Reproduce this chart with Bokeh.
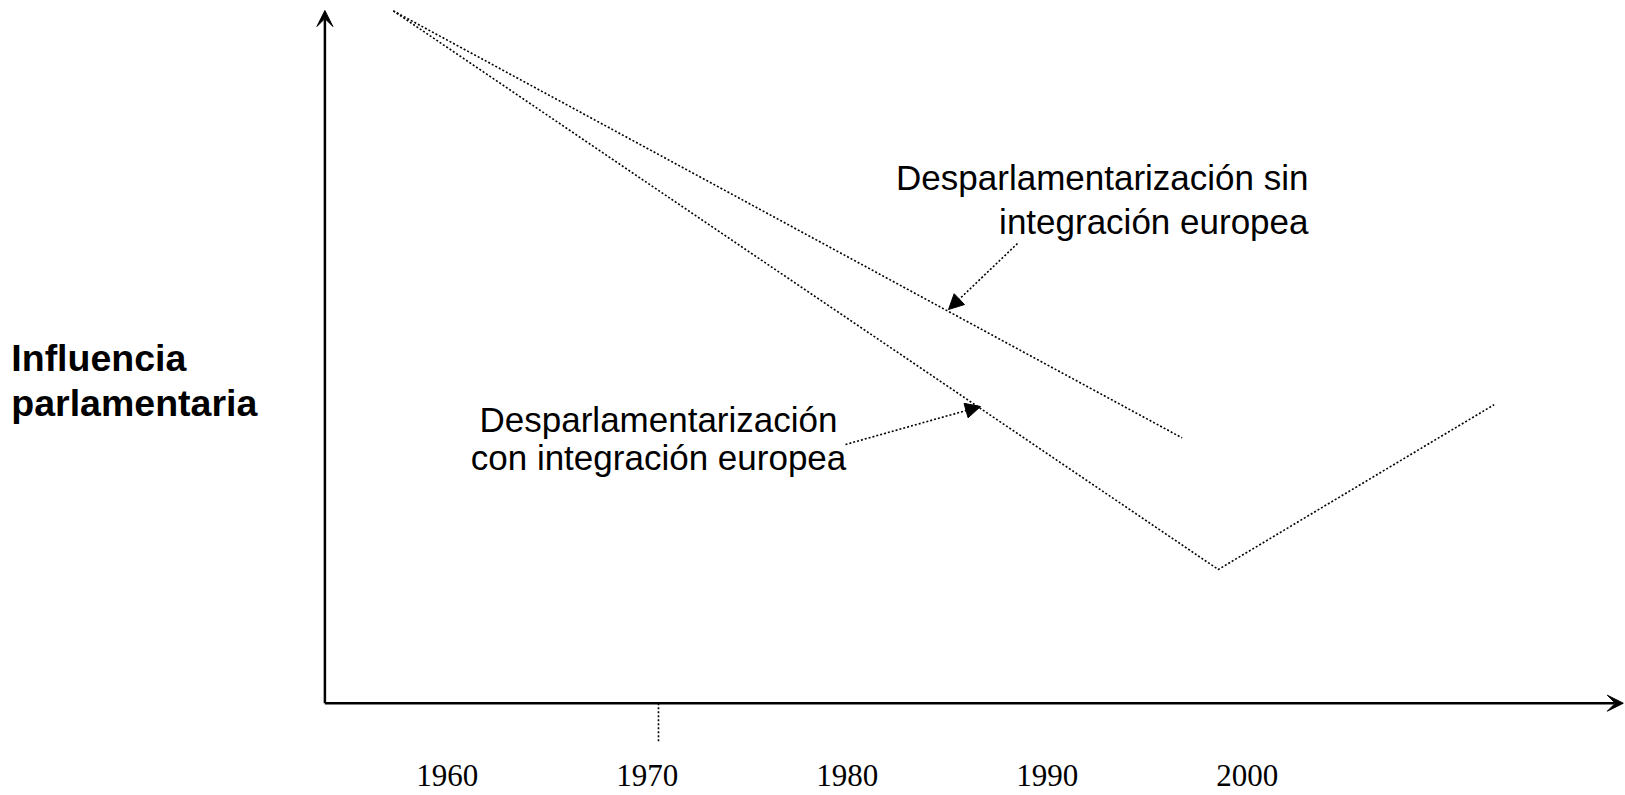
from bokeh.plotting import figure
from bokeh.models import Range1d, Arrow, NormalHead, VeeHead
from bokeh.core.properties import value
from bokeh.embed import file_html
from bokeh.resources import INLINE

# ---- data (years on x, conceptual "influence" on y) ----
tick_years = [1960, 1970, 1980, 1990, 2000]
tick_labels = ["1960", "1970", "1980", "1990", "2000"]

sin_x = [1957.3, 1996.74]           # Desparlamentarización sin integración europea
sin_y = [69.23, 26.53]
con_x = [1957.3, 1998.55, 2012.34]  # Desparlamentarización con integración europea
con_y = [69.23, 13.37, 29.85]

marker_year = 1970.56               # dotted marker under the time axis

y_label_lines = ["Influencia", "parlamentaria"]
sin_label_lines = ["Desparlamentarización sin", "integración europea"]
con_label_lines = ["Desparlamentarización", "con integración europea"]

# ---- layout constants (positions in data units) ----
X0, X1 = 1937.66, 2018.91
Y0, Y1 = -9.23, 70.27
AXIS_X = 1953.88
AXIS_TOP = 69.27
AXIS_RIGHT = 2018.8
TICK_LABEL_Y = -7.2
MARKER_BOTTOM = -3.93

p = figure(width=1625, height=795, x_range=Range1d(X0, X1), y_range=Range1d(Y0, Y1),
           output_backend="svg", toolbar_location=None,
           x_axis_type=None, y_axis_type=None, min_border=0,
           outline_line_color=None, background_fill_color="white")

DOT = "2 2"

# series lines
p.line(sin_x, sin_y, line_color="black", line_width=1.6, line_dash=DOT)
p.line(con_x, con_y, line_color="black", line_width=1.6, line_dash=DOT)

# axes drawn as arrows
p.add_layout(Arrow(x_start=AXIS_X, y_start=0, x_end=AXIS_X, y_end=AXIS_TOP,
                   line_color="black", line_width=2.5,
                   end=VeeHead(size=16, fill_color="black", line_color="black", line_width=1)))
p.add_layout(Arrow(x_start=AXIS_X, y_start=0, x_end=AXIS_RIGHT, y_end=0,
                   line_color="black", line_width=2.5,
                   end=VeeHead(size=16, fill_color="black", line_color="black", line_width=1)))

# dotted marker under the axis
p.segment(x0=[marker_year], y0=[0], x1=[marker_year], y1=[MARKER_BOTTOM],
          line_color="black", line_width=1.6, line_dash=DOT)

# tick labels
p.text(x=tick_years, y=[TICK_LABEL_Y] * len(tick_years), text=tick_labels,
       text_font=value("Liberation Serif"), text_font_size=value("31px"),
       text_align="center", text_baseline="middle", text_color="black")

# y axis title
p.text(x=[1938.2, 1938.2], y=[34.5, 30.05], text=y_label_lines,
       text_font=value("Liberation Sans"), text_font_size=value("37.5px"),
       text_font_style="bold", text_align="left", text_baseline="middle",
       text_color="black")

# annotations
p.text(x=[2003.06, 2003.06], y=[52.62, 48.22], text=sin_label_lines,
       text_font=value("Liberation Sans"), text_font_size=value("35px"),
       text_align="right", text_baseline="middle", text_color="black")
p.text(x=[1970.56, 1970.56], y=[28.37, 24.57], text=con_label_lines,
       text_font=value("Liberation Sans"), text_font_size=value("35px"),
       text_align="center", text_baseline="middle", text_color="black")

p.add_layout(Arrow(x_start=1988.51, y_start=45.97, x_end=1985.06, y_end=39.37,
                   line_color="black", line_width=1.6, line_dash=DOT,
                   end=NormalHead(size=15, fill_color="black", line_color="black", line_width=1)))
p.add_layout(Arrow(x_start=1979.91, y_start=25.87, x_end=1986.66, y_end=29.67,
                   line_color="black", line_width=1.6, line_dash=DOT,
                   end=NormalHead(size=15, fill_color="black", line_color="black", line_width=1)))

open("out.html", "w").write(file_html(p, INLINE))
